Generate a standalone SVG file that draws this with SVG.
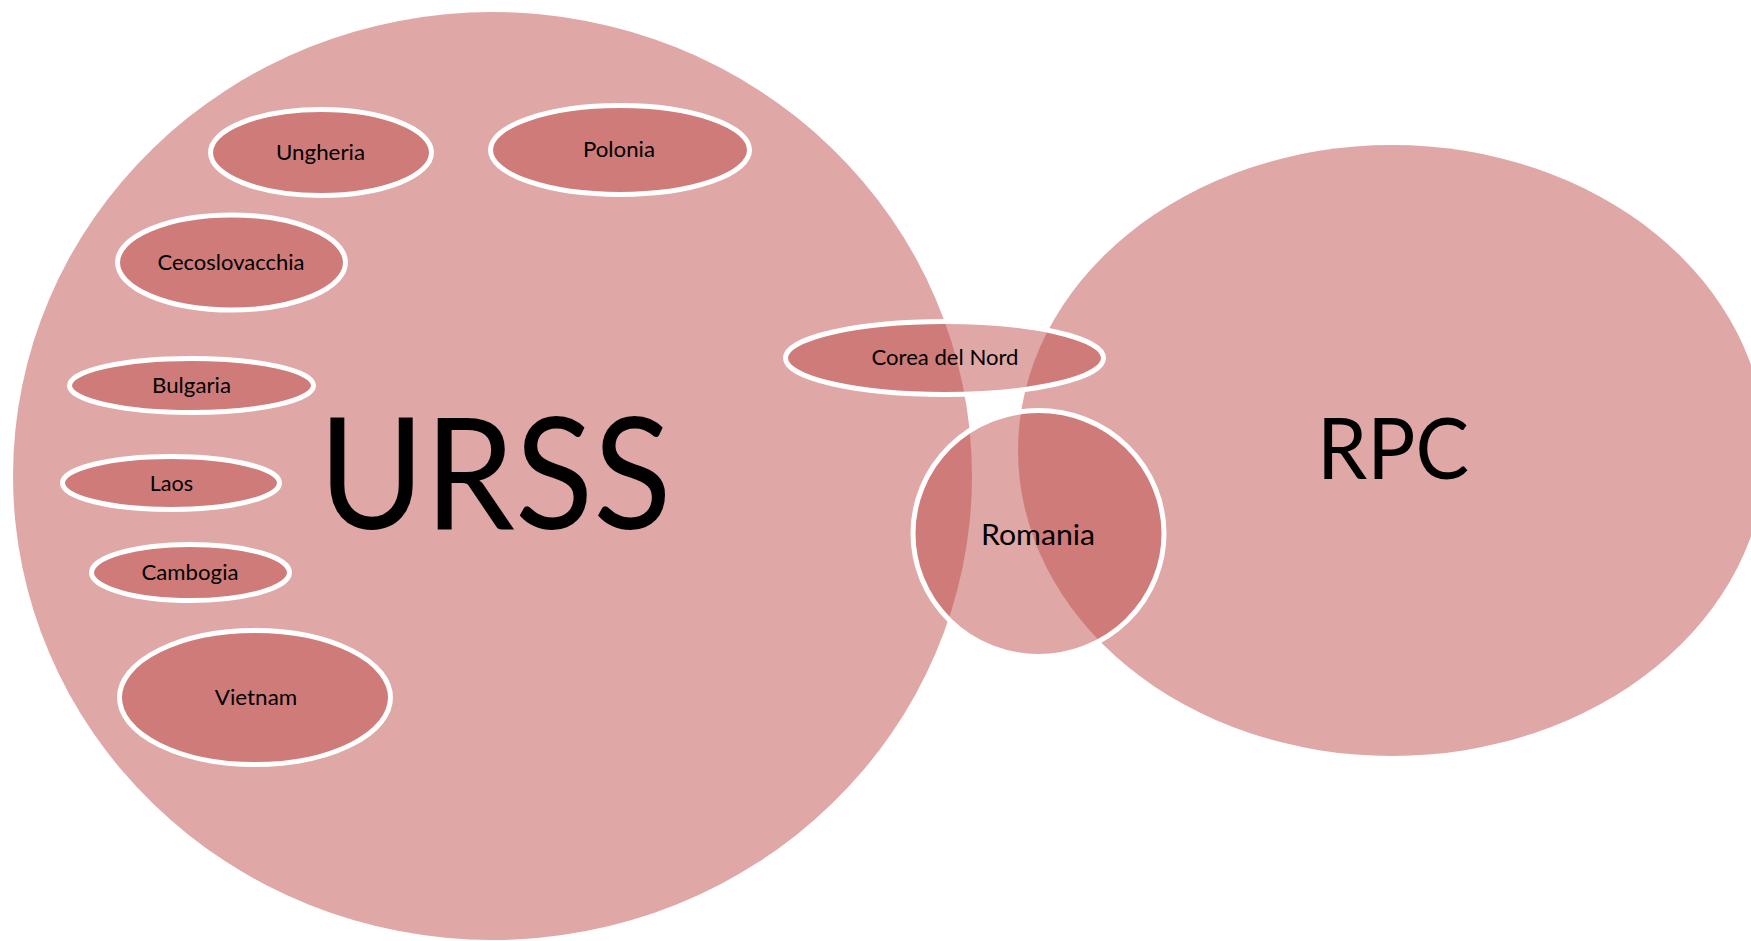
<svg xmlns="http://www.w3.org/2000/svg" width="1751" height="941" viewBox="0 0 1751 941">
  <style>
    .bloc { fill: #C0504D; fill-opacity: 0.5; stroke: none; }
    .member { fill: #C0504D; fill-opacity: 0.5; stroke: #FFFFFF; stroke-width: 5; }
    text { font-family: Lato, "Open Sans", "Liberation Sans", sans-serif; fill: #000000; text-anchor: middle; }
    .lbl { font-size: 21.5px; }
    .lbl-mid { font-size: 28.5px; }
  </style>
  <rect x="0" y="0" width="1751" height="941" fill="#FFFFFF"/>

  <!-- Soviet bloc -->
  <g id="urss">
    <ellipse class="bloc" cx="492.5" cy="476" rx="479.5" ry="464"/>
    <text x="495" y="529" font-size="155" textLength="353" lengthAdjust="spacingAndGlyphs">URSS</text>
  </g>

  <!-- People's Republic of China -->
  <g id="rpc">
    <ellipse class="bloc" cx="1392" cy="450.5" rx="374" ry="305.5"/>
    <text x="1393" y="479" font-size="86" textLength="152" lengthAdjust="spacingAndGlyphs">RPC</text>
  </g>

  <g id="ungheria">
    <ellipse class="member" cx="321" cy="152.5" rx="110.5" ry="43"/>
    <text class="lbl" x="320.5" y="160" textLength="89" lengthAdjust="spacingAndGlyphs">Ungheria</text>
  </g>

  <g id="polonia">
    <ellipse class="member" cx="620" cy="150" rx="129.5" ry="44.5"/>
    <text class="lbl" x="619" y="157" textLength="72" lengthAdjust="spacingAndGlyphs">Polonia</text>
  </g>

  <g id="cecoslovacchia">
    <ellipse class="member" cx="231.5" cy="262.5" rx="114" ry="47.5"/>
    <text class="lbl" x="231" y="270" textLength="147" lengthAdjust="spacingAndGlyphs">Cecoslovacchia</text>
  </g>

  <g id="bulgaria">
    <ellipse class="member" cx="191.5" cy="385.5" rx="122" ry="27"/>
    <text class="lbl" x="191.5" y="392.5" textLength="79" lengthAdjust="spacingAndGlyphs">Bulgaria</text>
  </g>

  <g id="laos">
    <ellipse class="member" cx="171" cy="483" rx="108.5" ry="26.5"/>
    <text class="lbl" x="171.5" y="490.5" textLength="43.5" lengthAdjust="spacingAndGlyphs">Laos</text>
  </g>

  <g id="cambogia">
    <ellipse class="member" cx="190.5" cy="572.5" rx="99" ry="28"/>
    <text class="lbl" x="190" y="579.5" textLength="97" lengthAdjust="spacingAndGlyphs">Cambogia</text>
  </g>

  <g id="vietnam">
    <ellipse class="member" cx="255" cy="697.5" rx="135.5" ry="67"/>
    <text class="lbl" x="256" y="705" textLength="82.5" lengthAdjust="spacingAndGlyphs">Vietnam</text>
  </g>

  <g id="corea-del-nord">
    <ellipse class="member" cx="944.5" cy="358" rx="159" ry="36.5"/>
    <text class="lbl" x="945" y="365" textLength="147" lengthAdjust="spacingAndGlyphs">Corea del Nord</text>
  </g>

  <g id="romania">
    <ellipse class="member" cx="1038.5" cy="533.5" rx="125.5" ry="123"/>
    <text class="lbl-mid" x="1038" y="545" textLength="114" lengthAdjust="spacingAndGlyphs">Romania</text>
  </g>
</svg>
